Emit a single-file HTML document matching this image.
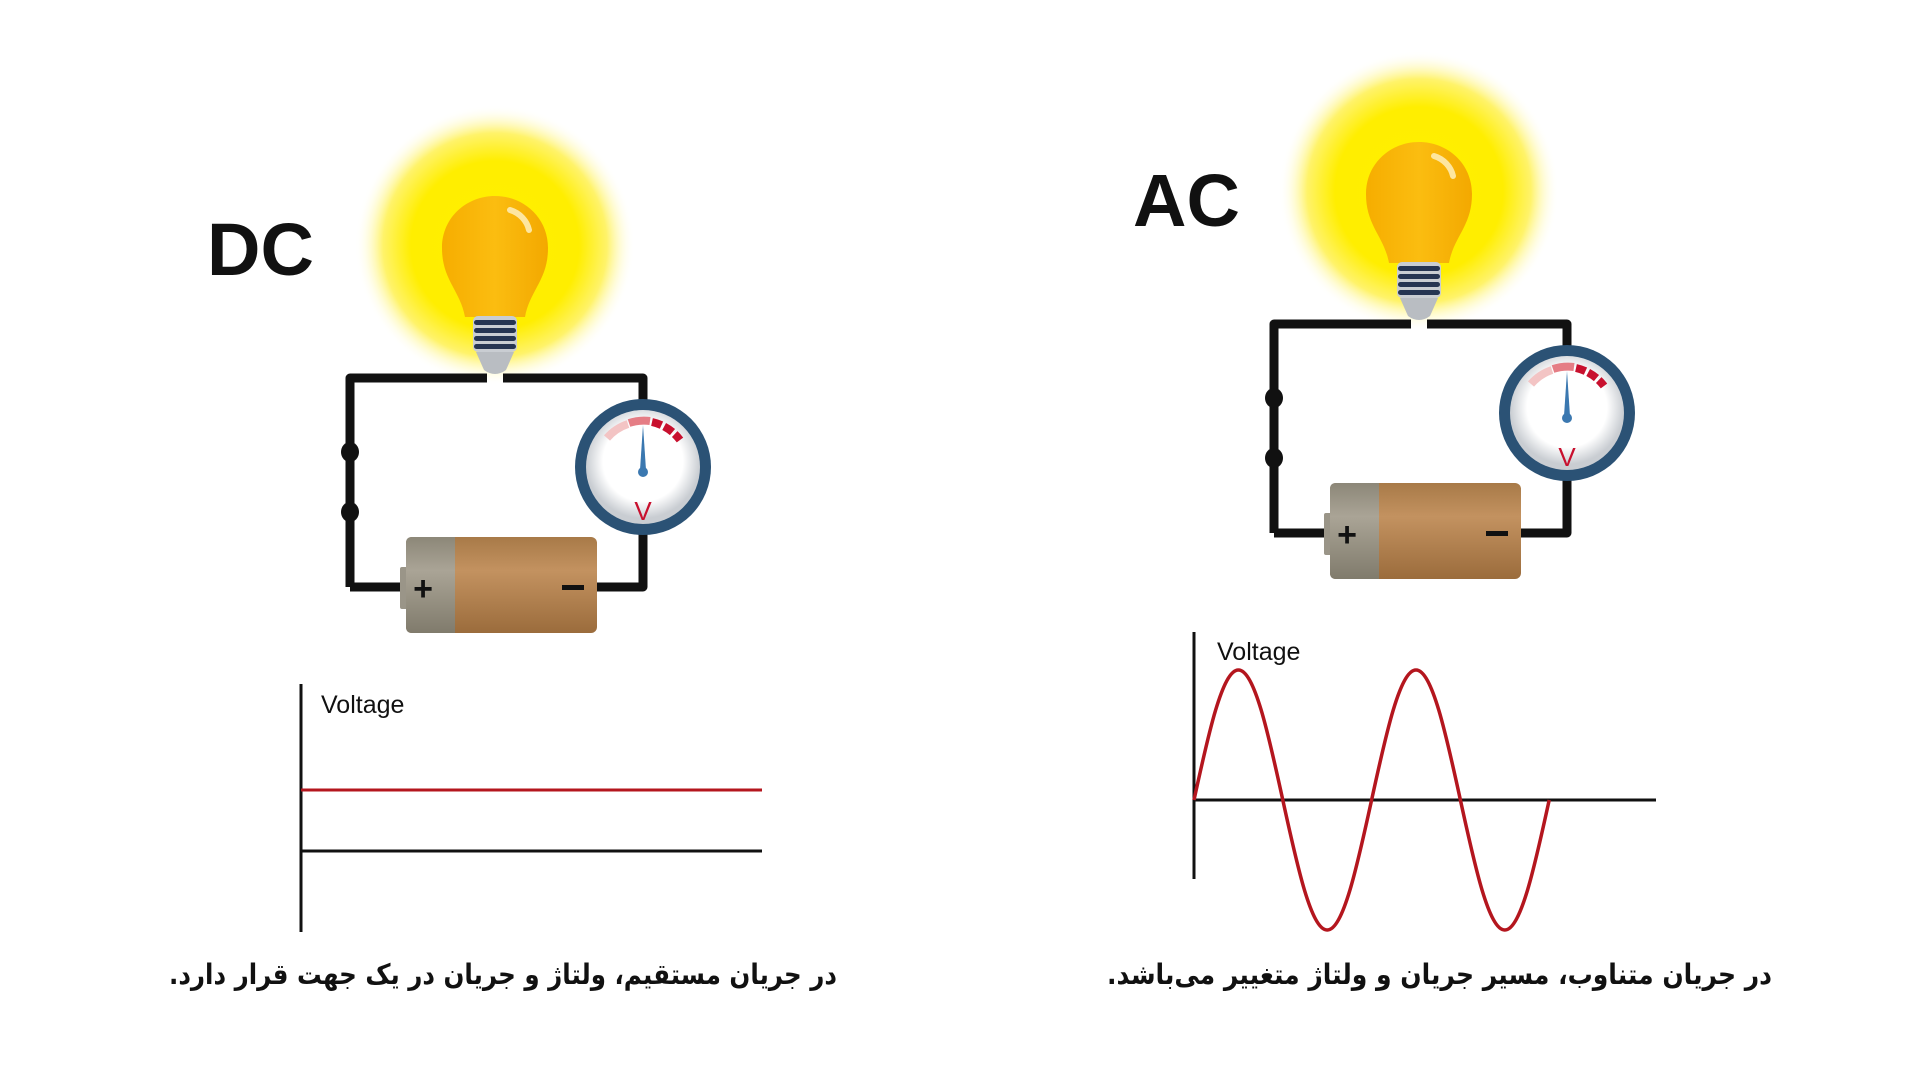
<!DOCTYPE html>
<html><head><meta charset="utf-8"><style>
html,body{margin:0;padding:0;background:#fff;}
svg{display:block;}
</style></head><body>
<svg width="1920" height="1080" viewBox="0 0 1920 1080" xmlns="http://www.w3.org/2000/svg">
<defs>
<radialGradient id="glow" cx="50%" cy="50%" r="50%">
<stop offset="0" stop-color="#fff000"/>
<stop offset="0.6" stop-color="#ffee00"/>
<stop offset="0.8" stop-color="#fff36a"/>
<stop offset="1" stop-color="#ffffff" stop-opacity="0"/>
</radialGradient>
<linearGradient id="glass" x1="0" x2="1">
<stop offset="0" stop-color="#f6ad00"/><stop offset="0.5" stop-color="#fbbd10"/><stop offset="1" stop-color="#f3a800"/>
</linearGradient>
<linearGradient id="bat" x1="0" y1="0" x2="0" y2="1">
<stop offset="0" stop-color="#a87a48"/><stop offset="0.35" stop-color="#c39260"/><stop offset="1" stop-color="#9b6c3c"/>
</linearGradient>
<linearGradient id="batg" x1="0" y1="0" x2="0" y2="1">
<stop offset="0" stop-color="#8c8778"/><stop offset="0.35" stop-color="#aaa496"/><stop offset="1" stop-color="#807b6c"/>
</linearGradient>
<radialGradient id="face" cx="50%" cy="45%" r="50%">
<stop offset="0.7" stop-color="#ffffff"/><stop offset="1" stop-color="#c9cdd2"/>
</radialGradient>
<g id="circ">
<circle cx="495" cy="245" r="140" fill="url(#glow)"/>
<path d="M350,587 V378 H487 M503,378 H643 V587 H590" fill="none" stroke="#111" stroke-width="9" stroke-linejoin="round"/>
<path d="M350,587 H400" stroke="#111" stroke-width="9"/>
<ellipse cx="350" cy="452" rx="9" ry="10" fill="#111"/>
<ellipse cx="350" cy="512" rx="9" ry="10" fill="#111"/>
<path d="M465,317 C460,290 442,280 442,248 C442,217 467,196 495,196 C523,196 548,217 548,248 C548,280 530,290 525,317 Z" fill="url(#glass)"/>
<path d="M510,210 C520,213 527,221 529,230" stroke="#fde6a0" stroke-width="6" fill="none" stroke-linecap="round"/>
<rect x="473" y="316" width="44" height="36" rx="5" fill="#c9cdd2"/>
<rect x="474" y="320" width="42" height="5" rx="2.5" fill="#263552"/>
<rect x="474" y="328" width="42" height="5" rx="2.5" fill="#263552"/>
<rect x="474" y="336" width="42" height="5" rx="2.5" fill="#263552"/>
<rect x="474" y="344" width="42" height="5" rx="2.5" fill="#263552"/>
<path d="M476,352 H514 L506,370 Q495,378 484,370 Z" fill="#b9bdc2"/>
<circle cx="643" cy="467" r="68" fill="#2b5275"/>
<circle cx="643" cy="467" r="57" fill="url(#face)"/>
<path d="M607,438 A48,48 0 0 1 628,424" stroke="#f3c4c4" stroke-width="8" fill="none"/>
<path d="M629,423 A48,48 0 0 1 650,421" stroke="#e57d85" stroke-width="8" fill="none"/>
<path d="M652,422 A48,48 0 0 1 680,440" stroke="#c8102e" stroke-width="8" fill="none" stroke-dasharray="10 3"/>
<path d="M643,425 L646,470 L640,470 Z" fill="#3b78b0"/>
<circle cx="643" cy="472" r="5" fill="#3b78b0"/>
<text x="643" y="520" font-family="Liberation Sans, sans-serif" font-size="26" fill="#c8102e" text-anchor="middle">V</text>
<rect x="400" y="567" width="10" height="42" rx="2" fill="#9a9588"/>
<rect x="406" y="537" width="191" height="96" rx="6" fill="url(#bat)"/>
<path d="M412,537 H455 V633 H412 Q406,633 406,627 V543 Q406,537 412,537 Z" fill="url(#batg)"/>
<text x="423" y="600" font-family="Liberation Sans, sans-serif" font-weight="bold" font-size="34" fill="#111" text-anchor="middle">+</text>
<rect x="562" y="585" width="22" height="5" fill="#111"/>
</g>
</defs>

<use href="#circ"/>
<use href="#circ" transform="translate(924,-54)"/>

<text x="207" y="275" font-family="Liberation Sans, sans-serif" font-weight="bold" font-size="74" fill="#111">DC</text>
<text x="1133" y="226" font-family="Liberation Sans, sans-serif" font-weight="bold" font-size="74" fill="#111">AC</text>

<!-- DC graph -->
<line x1="301" y1="684" x2="301" y2="932" stroke="#111" stroke-width="3"/>
<line x1="301" y1="790" x2="762" y2="790" stroke="#b4161e" stroke-width="3"/>
<line x1="301" y1="851" x2="762" y2="851" stroke="#111" stroke-width="3"/>
<text x="321" y="713" font-family="Liberation Sans, sans-serif" font-size="25" fill="#111">Voltage</text>

<!-- AC graph -->
<line x1="1194" y1="632" x2="1194" y2="879" stroke="#111" stroke-width="3"/>
<line x1="1194" y1="800" x2="1656" y2="800" stroke="#111" stroke-width="3"/>
<path d="M1194,800 C1208.5,733.4 1222.4,670 1238.4,670 C1254.4,670 1268.3,733.4 1282.8,800 C1297.3,866.6 1311.2,930 1327.2,930 C1343.2,930 1357.1,866.6 1371.6,800 C1386.1,733.4 1400,670 1416,670 C1432,670 1445.9,733.4 1460.4,800 C1474.9,866.6 1488.8,930 1504.8,930 C1520.8,930 1534.7,866.6 1549.2,800" fill="none" stroke="#b4161e" stroke-width="3.5"/>
<text x="1217" y="660" font-family="Liberation Sans, sans-serif" font-size="25" fill="#111">Voltage</text>

<text x="837" y="984" direction="rtl" font-family="DejaVu Sans, sans-serif" font-weight="bold" font-size="28" fill="#111" textLength="668" lengthAdjust="spacingAndGlyphs">در جریان مستقیم، ولتاژ و جریان در یک جهت قرار دارد.</text>
<text x="1772" y="984" direction="rtl" font-family="DejaVu Sans, sans-serif" font-weight="bold" font-size="28" fill="#111" textLength="665" lengthAdjust="spacingAndGlyphs">در جریان متناوب، مسیر جریان و ولتاژ متغییر می‌باشد.</text>
</svg>
</body></html>
